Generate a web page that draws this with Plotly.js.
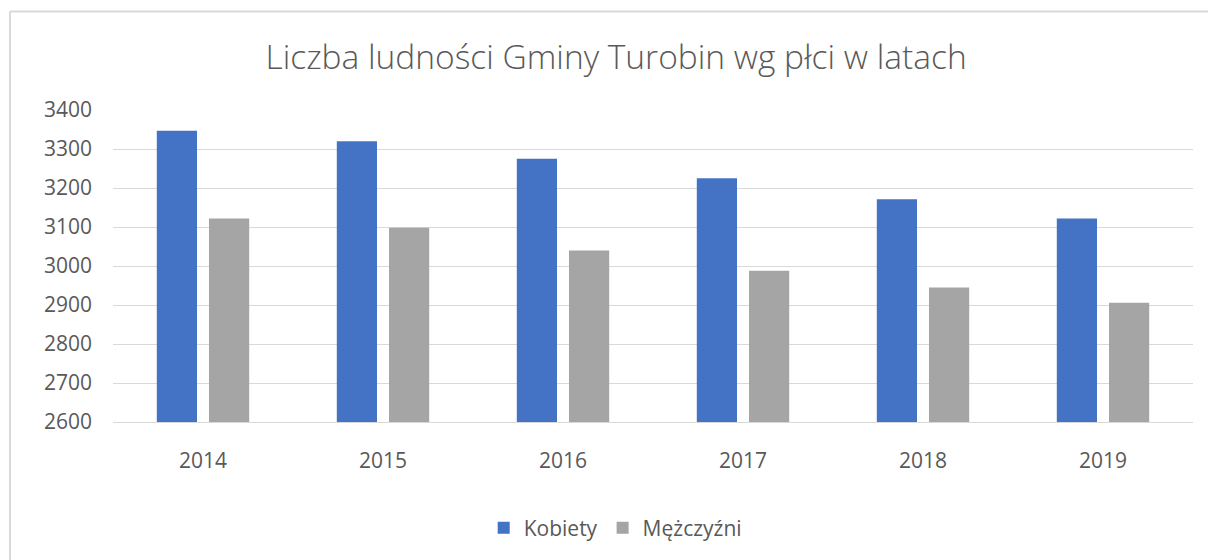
<!DOCTYPE html>
<html>
<head>
<meta charset="utf-8">
<script src="https://cdn.plot.ly/plotly-3.0.1.min.js"></script>
<style>html,body{margin:0;padding:0;background:#fff;}#chart{width:1208px;height:560px;}</style>
</head>
<body>
<div id="chart"></div>
<script>
const years = ['2014', '2015', '2016', '2017', '2018', '2019'];
const kobiety = [3347, 3320, 3275, 3225, 3171, 3122];
const mezczyzni = [3122, 3098, 3040, 2988, 2945, 2906];
const yTicks = [2600, 2700, 2800, 2900, 3000, 3100, 3200, 3300, 3400];
const seriesNames = ['Kobiety', 'Mężczyźni'];
const seriesColors = ['#4472C4', '#A5A5A5'];

const traces = [kobiety, mezczyzni].map((vals, i) => ({
  type: 'bar',
  name: seriesNames[i],
  x: years,
  y: vals,
  marker: {color: seriesColors[i], line: {width: 0}},
  hoverinfo: 'x+y+name'
}));

const txt = '#595959';
const layout = {
  width: 1208, height: 560,
  margin: {l: 113, r: 15, t: 110, b: 137},
  paper_bgcolor: '#ffffff', plot_bgcolor: '#ffffff',
  font: {family: 'Open Sans, sans-serif', color: txt, size: 21},
  title: {
    text: 'Liczba ludności Gminy Turobin wg płci w latach',
    font: {family: 'Open Sans, sans-serif', size: 33.5, color: txt, weight: 300},
    x: 0.51, xref: 'container', xanchor: 'center',
    y: 0.898, yref: 'container', yanchor: 'middle'
  },
  barmode: 'group',
  bargap: 0.42,
  bargroupgap: 0.23,
  xaxis: {
    type: 'category',
    showgrid: false,
    showline: true, linecolor: '#d9d9d9', linewidth: 1,
    ticks: '',
    tickfont: {size: 21, color: txt},
    ticklabelstandoff: 20
  },
  yaxis: {
    range: [2600, 3400],
    tickvals: yTicks,
    ticktext: yTicks.map(String),
    showgrid: true, gridcolor: '#d9d9d9', gridwidth: 1,
    zeroline: false, showline: false,
    ticks: '',
    tickfont: {size: 21, color: txt},
    ticklabelstandoff: 20
  },
  showlegend: true,
  legend: {
    orientation: 'h',
    x: 0.465, xanchor: 'center',
    y: -0.336, yanchor: 'middle',
    font: {size: 21, color: txt},
    itemwidth: 30,
    traceorder: 'normal'
  },
  shapes: [
    {type: 'line', xref: 'paper', yref: 'paper', x0: -0.0954, x1: -0.0954, y0: 1.316, y1: -0.5, line: {color: '#d9d9d9', width: 2}},
    {type: 'line', xref: 'paper', yref: 'paper', x0: -0.0954, x1: 1.1, y0: 1.316, y1: 1.316, line: {color: '#d9d9d9', width: 2}}
  ]
};

Plotly.newPlot('chart', traces, layout, {displayModeBar: false, responsive: false});
</script>
</body>
</html>
